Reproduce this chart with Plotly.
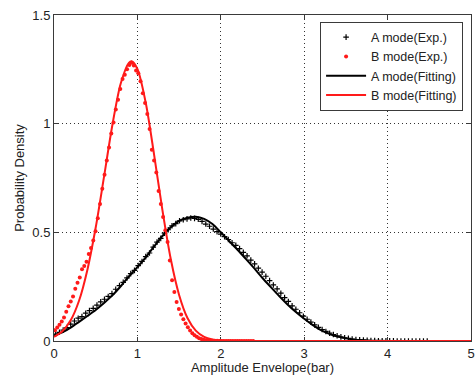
import plotly.graph_objects as go

# ---------------- data ----------------
a_fit_x = [0.0, 0.1, 0.2, 0.3, 0.4, 0.5, 0.6, 0.7, 0.8, 0.9, 1.0, 1.1, 1.2, 1.3, 1.4,
           1.5, 1.6, 1.7, 1.8, 1.9, 2.0, 2.1, 2.2, 2.3, 2.4, 2.5, 2.6, 2.7, 2.8, 2.9,
           3.0, 3.1, 3.2, 3.3, 3.4, 3.5, 3.6, 3.7, 3.8, 3.9, 4.0, 4.5, 5.0]
a_fit_y = [0.025, 0.040, 0.062, 0.088, 0.115, 0.143, 0.175, 0.210, 0.252, 0.298,
           0.340, 0.385, 0.435, 0.483, 0.523, 0.553, 0.567, 0.572, 0.562, 0.538,
           0.500, 0.460, 0.420, 0.378, 0.335, 0.290, 0.248, 0.207, 0.168, 0.133,
           0.102, 0.074, 0.050, 0.033, 0.020, 0.012, 0.006, 0.003, 0.0015, 0.0007,
           0.0003, 0.0, 0.0]

b_fit_x = [0.0, 0.1, 0.2, 0.3, 0.4, 0.5, 0.6, 0.7, 0.8, 0.9, 0.93, 1.0, 1.1, 1.2,
           1.3, 1.4, 1.5, 1.6, 1.7, 1.8, 1.9, 2.0, 2.5, 3.0, 3.5, 4.0, 4.5, 5.0]
b_fit_y = [0.019, 0.045, 0.095, 0.185, 0.327, 0.522, 0.756, 0.994, 1.185, 1.281,
           1.287, 1.252, 1.096, 0.858, 0.602, 0.377, 0.212, 0.106, 0.048, 0.019,
           0.007, 0.002, 0.0, 0.0, 0.0, 0.0, 0.0, 0.0]

a_exp_y = [0.032, 0.040, 0.050, 0.062, 0.078, 0.092, 0.105, 0.112, 0.128, 0.140,
           0.150, 0.165, 0.180, 0.192, 0.205, 0.218, 0.238, 0.255, 0.270, 0.290,
           0.310, 0.325, 0.347, 0.366, 0.388, 0.405, 0.432, 0.455, 0.472, 0.496,
           0.512, 0.530, 0.540, 0.553, 0.558, 0.562, 0.566, 0.564, 0.560, 0.550,
           0.538, 0.528, 0.515, 0.503, 0.492, 0.480, 0.467, 0.452, 0.440, 0.425,
           0.408, 0.392, 0.372, 0.355, 0.335, 0.317, 0.298, 0.278, 0.258, 0.240,
           0.220, 0.200, 0.182, 0.162, 0.146, 0.130, 0.114, 0.100, 0.087, 0.074,
           0.063, 0.053, 0.044, 0.036, 0.030, 0.024, 0.019, 0.015, 0.012, 0.009,
           0.007, 0.005, 0.004, 0.003, 0.002, 0.002, 0.001, 0.001, 0.001, 0.0005,
           0.0005, 0.0, 0.0, 0.0, 0.0, 0.0, 0.0, 0.0, 0.0, 0.0]
a_exp_x0, a_exp_step = 0.02, 0.045
a_exp_x = [round(a_exp_x0 + a_exp_step * i, 3) for i in range(len(a_exp_y))]

b_exp_y = [0.050, 0.062, 0.075, 0.090, 0.108, 0.135, 0.160, 0.182, 0.205, 0.240,
           0.268, 0.292, 0.330, 0.345, 0.365, 0.400, 0.428, 0.462, 0.505, 0.565,
           0.630, 0.700, 0.765, 0.830, 0.890, 0.955, 1.005, 1.065, 1.110, 1.160,
           1.205, 1.225, 1.250, 1.270, 1.280, 1.268, 1.245, 1.232, 1.195, 1.140,
           1.095, 1.045, 0.975, 0.880, 0.830, 0.775, 0.690, 0.630, 0.570, 0.510,
           0.455, 0.370, 0.280, 0.225, 0.180, 0.147, 0.122, 0.100, 0.080, 0.063,
           0.048, 0.036, 0.026, 0.019, 0.013, 0.009, 0.006, 0.004, 0.003, 0.002,
           0.001, 0.001, 0.001, 0.0, 0.0, 0.0, 0.0, 0.0, 0.0, 0.0,
           0.0, 0.0, 0.0, 0.0, 0.0, 0.0, 0.0, 0.0, 0.0]
b_exp_x0, b_exp_step = 0.012, 0.027
b_exp_x = [round(b_exp_x0 + b_exp_step * i, 3) for i in range(len(b_exp_y))]

x_ticks = [0, 1, 2, 3, 4, 5]
y_ticks = [0, 0.5, 1, 1.5]
y_tick_text = ["0", "0.5", "1", "1.5"]

RED = "#ff1a1a"
BLACK = "#000000"
FONT = "Liberation Sans, Arial, sans-serif"

fig = go.Figure()
fig.add_trace(go.Scatter(
    x=a_exp_x, y=a_exp_y, mode="markers", name="A mode(Exp.)",
    marker=dict(symbol="cross-thin", size=4, color=BLACK,
                line=dict(color=BLACK, width=1.2)),
))
fig.add_trace(go.Scatter(
    x=b_exp_x, y=b_exp_y, mode="markers", name="B mode(Exp.)",
    marker=dict(symbol="circle", size=4, color=RED, line=dict(width=0)),
))
fig.add_trace(go.Scatter(
    x=a_fit_x, y=a_fit_y, mode="lines", name="A mode(Fitting)",
    line=dict(color=BLACK, width=2, shape="spline", smoothing=0.8),
))
fig.add_trace(go.Scatter(
    x=b_fit_x, y=b_fit_y, mode="lines", name="B mode(Fitting)",
    line=dict(color=RED, width=2, shape="spline", smoothing=0.8),
))

axis_common = dict(
    showline=True, linecolor="#3a3a3a", linewidth=1, mirror="ticks",
    ticks="inside", ticklen=4, tickcolor="#3a3a3a",
    showgrid=True, gridcolor="rgba(0,0,0,0.8)", griddash="1px,3px", gridwidth=1,
    zeroline=False, tickfont=dict(family=FONT, size=13, color="#222"),
    layer="below traces", automargin=False, ticklabeloverflow="allow",
)

fig.update_layout(
    width=476, height=375,
    margin=dict(l=54, r=5, t=15, b=34, pad=0),
    paper_bgcolor="white", plot_bgcolor="white",
    font=dict(family=FONT, size=13, color="#222"),
    showlegend=True,
    legend=dict(
        x=0.981, y=0.98, xanchor="right", yanchor="top",
        bgcolor="white", bordercolor="#3a3a3a", borderwidth=1,
        font=dict(family=FONT, size=12.5, color="#222"),
        itemwidth=40, tracegroupgap=0,
    ),
)
fig.update_xaxes(
    range=[0, 5], tickvals=x_ticks, **axis_common,
    title=dict(text="Amplitude Envelope(bar)", font=dict(family=FONT, size=13, color="#222"), standoff=6),
)
fig.update_yaxes(
    range=[0, 1.5], tickvals=y_ticks, ticktext=y_tick_text, **axis_common,
    title=dict(text="Probability Density", font=dict(family=FONT, size=13, color="#222"), standoff=4),
)

# remove the browser's default 8px page margin so the figure fills the window exactly
fig.write_html(
    "out.html",
    config={"displayModeBar": False},
    post_script="document.body.style.margin='0';document.body.style.overflow='hidden';",
)
